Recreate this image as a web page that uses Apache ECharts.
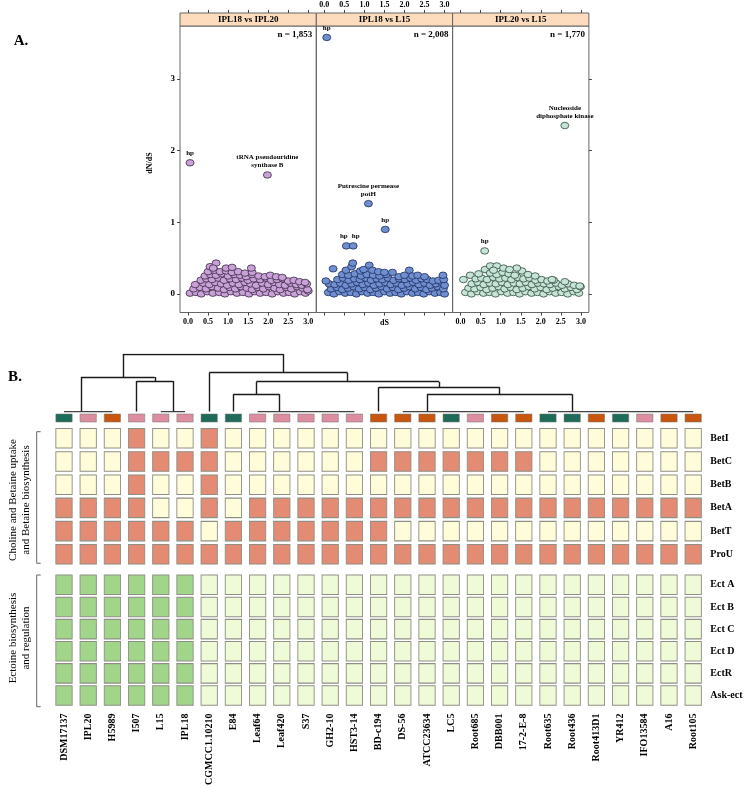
<!DOCTYPE html>
<html><head><meta charset="utf-8">
<script src="https://cdn.jsdelivr.net/npm/echarts@6/dist/echarts.min.js"></script>
<style>html,body{margin:0;padding:0;background:#fff}#c{width:748px;height:788px}</style>
</head><body><div id="c"></div>
<script>
const FONT = '"Liberation Serif","Times New Roman",serif';

// ---------------- Part A data ----------------
const panelTitles = ['IPL18 vs IPL20', 'IPL18 vs L15', 'IPL20 vs L15'];
const panelCounts = ['n = 1,853', 'n = 2,008', 'n = 1,770'];
const xTicks = [0, 0.5, 1, 1.5, 2, 2.5, 3];
const yTicks = [0, 1, 2, 3];

// [dS, dN/dS]
const pts_IPL18_IPL20 = [
 [0.05,0.01],[0.2,0.02],[0.33,0.0],[0.48,0.03],[0.62,0.01],[0.78,0.02],[0.92,0.0],[1.07,0.03],[1.22,0.01],[1.37,0.02],[1.52,0.0],[1.66,0.03],[1.8,0.01],[1.95,0.02],[2.1,0.0],[2.24,0.03],[2.38,0.01],[2.52,0.02],[2.66,0.0],[2.8,0.03],[2.93,0.01],[3.0,0.04],
 [0.14,0.07],[0.3,0.09],[0.45,0.07],[0.6,0.1],[0.75,0.08],[0.9,0.06],[1.04,0.09],[1.18,0.07],[1.32,0.1],[1.47,0.08],[1.6,0.06],[1.74,0.09],[1.88,0.07],[2.02,0.1],[2.16,0.08],[2.3,0.06],[2.45,0.09],[2.58,0.07],[2.72,0.1],[2.86,0.08],[2.98,0.06],
 [0.18,0.13],[0.38,0.15],[0.53,0.13],[0.68,0.16],[0.83,0.14],[0.98,0.12],[1.12,0.15],[1.27,0.13],[1.42,0.16],[1.56,0.14],[1.7,0.12],[1.85,0.15],[2.0,0.13],[2.14,0.16],[2.28,0.13],[2.42,0.12],[2.56,0.15],[2.7,0.13],[2.84,0.12],[2.96,0.14],
 [0.32,0.19],[0.46,0.21],[0.6,0.2],[0.76,0.22],[0.9,0.19],[1.05,0.21],[1.2,0.2],[1.35,0.22],[1.5,0.19],[1.64,0.21],[1.8,0.2],[1.94,0.22],[2.08,0.19],[2.22,0.2],[2.36,0.21],[2.5,0.18],[2.64,0.19],[2.78,0.17],[2.92,0.16],
 [0.42,0.25],[0.56,0.27],[0.7,0.26],[0.85,0.28],[1.0,0.25],[1.15,0.27],[1.3,0.26],[1.45,0.24],[1.6,0.27],[1.76,0.25],[1.92,0.24],[2.05,0.26],[2.2,0.24],[2.35,0.23],
 [0.5,0.31],[0.66,0.33],[0.8,0.31],[0.95,0.32],[1.1,0.3],[1.25,0.31],[1.42,0.29],[1.6,0.3],
 [0.55,0.38],[0.7,0.43],[0.63,0.36],[0.95,0.36],[1.1,0.37],[1.58,0.36]
];
const out_IPL18_IPL20 = [[0.05,1.83,'hp'],[1.98,1.66,'tRNA pseudouridine\nsynthase B']];

const pts_IPL18_L15 = [
 [0.1,0.02],[0.24,0.0],[0.38,0.03],[0.52,0.01],[0.66,0.02],[0.8,0.0],[0.94,0.03],[1.08,0.01],[1.22,0.02],[1.36,0.0],[1.5,0.03],[1.64,0.01],[1.78,0.02],[1.92,0.0],[2.06,0.03],[2.2,0.01],[2.34,0.02],[2.48,0.0],[2.62,0.03],[2.76,0.01],[2.9,0.02],[3.0,0.0],
 [0.17,0.07],[0.31,0.09],[0.45,0.06],[0.59,0.08],[0.73,0.1],[0.87,0.07],[1.01,0.09],[1.15,0.06],[1.29,0.08],[1.43,0.1],[1.57,0.07],[1.71,0.09],[1.85,0.06],[1.99,0.08],[2.13,0.1],[2.27,0.07],[2.41,0.09],[2.55,0.06],[2.69,0.08],[2.83,0.1],[2.97,0.07],
 [0.12,0.14],[0.26,0.13],[0.4,0.15],[0.54,0.12],[0.68,0.14],[0.82,0.16],[0.96,0.13],[1.1,0.15],[1.24,0.12],[1.38,0.14],[1.52,0.16],[1.66,0.13],[1.8,0.15],[1.94,0.12],[2.08,0.14],[2.22,0.16],[2.36,0.13],[2.5,0.15],[2.64,0.12],[2.78,0.14],[2.92,0.16],[3.0,0.12],
 [0.04,0.18],[0.33,0.2],[0.47,0.22],[0.61,0.19],[0.75,0.21],[0.89,0.2],[1.03,0.22],[1.17,0.19],[1.31,0.21],[1.45,0.2],[1.59,0.22],[1.73,0.19],[1.87,0.21],[2.01,0.2],[2.15,0.22],[2.29,0.19],[2.43,0.21],[2.57,0.2],[2.71,0.18],[2.85,0.19],[2.98,0.2],
 [0.45,0.27],[0.6,0.26],[0.76,0.28],[0.92,0.25],[1.06,0.27],[1.22,0.26],[1.38,0.25],[1.54,0.27],[1.7,0.3],[1.86,0.24],[2.0,0.26],[2.12,0.33],[2.2,0.25],[2.33,0.26],[2.5,0.24],[2.96,0.26],
 [0.22,0.35],[0.54,0.33],[0.68,0.38],[0.71,0.43],[0.9,0.32],[0.98,0.34],[1.12,0.4],[1.2,0.33],[1.35,0.31],[1.5,0.3]
];
const out_IPL18_L15 = [[0.06,3.58,'hp'],[1.1,1.26,'Putrescine permease\npotH'],[1.52,0.9,'hp'],[0.55,0.67,'hp'],[0.72,0.67,'hp']];

const pts_IPL20_L15 = [
 [0.12,0.02],[0.27,0.0],[0.42,0.03],[0.57,0.01],[0.72,0.02],[0.87,0.0],[1.02,0.03],[1.17,0.01],[1.32,0.02],[1.47,0.0],[1.62,0.03],[1.77,0.01],[1.92,0.02],[2.07,0.0],[2.22,0.03],[2.37,0.01],[2.52,0.02],[2.67,0.0],[2.82,0.03],[2.95,0.01],
 [0.2,0.08],[0.35,0.07],[0.5,0.09],[0.65,0.06],[0.8,0.08],[0.95,0.1],[1.1,0.07],[1.25,0.09],[1.4,0.06],[1.55,0.08],[1.7,0.1],[1.85,0.07],[2.0,0.09],[2.15,0.06],[2.3,0.08],[2.45,0.1],[2.6,0.07],[2.75,0.09],[2.9,0.06],[2.99,0.1],
 [0.07,0.2],[0.28,0.14],[0.43,0.16],[0.58,0.13],[0.73,0.15],[0.88,0.14],[1.03,0.16],[1.18,0.13],[1.33,0.15],[1.48,0.14],[1.63,0.16],[1.78,0.13],[1.93,0.15],[2.08,0.14],[2.23,0.13],[2.38,0.15],[2.53,0.12],[2.68,0.14],[2.83,0.12],[2.97,0.11],
 [0.24,0.26],[0.38,0.21],[0.52,0.22],[0.66,0.2],[0.82,0.23],[0.97,0.21],[1.12,0.22],[1.27,0.2],[1.42,0.23],[1.57,0.21],[1.72,0.22],[1.87,0.19],[2.02,0.2],[2.17,0.18],[2.32,0.19],[2.6,0.17],
 [0.45,0.28],[0.61,0.34],[0.74,0.29],[0.9,0.27],[1.05,0.3],[1.2,0.28],[1.35,0.26],[1.53,0.32],[1.68,0.27],[1.86,0.25],[2.28,0.2],
 [0.74,0.39],[0.9,0.39],[1.07,0.36],[1.4,0.36],[0.82,0.33],[1.22,0.34]
];
const out_IPL20_L15 = [[2.6,2.35,'Nucleoside\ndiphosphate kinase'],[0.6,0.6,'hp']];

// ---------------- Part B data ----------------
const strains = ['DSM17137','IPL20','H5989','I507','L15','IPL18','CGMCC1.10210','E84','Leaf64','Leaf420','S37','GH2-10','HST3-14','BD-c194','DS-56','ATCC23634','LC5','Root685','DBB001','17-2-E-8','Root635','Root436','Root413D1','YR412','IFO13584','A16','Root105'];
const strainGroup = ['T','P','O','P','P','P','T','T','P','P','P','P','P','O','O','O','T','P','O','O','T','T','O','T','P','O','O'];
const betRows = ['BetI','BetC','BetB','BetA','BetT','ProU'];
const betI = [0,0,0,1,0,0,1,0,0,0,0,0,0,0,0,0,0,0,0,0,0,0,0,0,0,0,0];
const betC = [0,0,0,1,1,1,1,0,0,0,0,0,0,1,1,1,1,1,1,1,0,0,0,0,0,0,0];
const betB = [0,0,0,1,0,0,1,0,0,0,0,0,0,0,0,0,0,0,0,0,0,0,0,0,0,0,0];
const betA = [1,1,1,1,0,0,1,0,1,1,1,1,1,1,1,1,1,1,1,1,1,1,1,1,1,1,1];
const betT = [1,1,1,1,1,1,0,1,1,1,1,1,1,1,0,0,0,0,0,0,0,0,0,0,0,0,0];
const proU = [1,1,1,1,1,1,1,1,1,1,1,1,1,1,1,1,1,1,1,1,1,1,1,1,1,1,1];
const ectRows = ['Ect A','Ect B','Ect C','Ect D','EctR','Ask-ect'];
const ectA = [1,1,1,1,1,1,0,0,0,0,0,0,0,0,0,0,0,0,0,0,0,0,0,0,0,0,0];
const ectB = [1,1,1,1,1,1,0,0,0,0,0,0,0,0,0,0,0,0,0,0,0,0,0,0,0,0,0];
const ectC = [1,1,1,1,1,1,0,0,0,0,0,0,0,0,0,0,0,0,0,0,0,0,0,0,0,0,0];
const ectD = [1,1,1,1,1,1,0,0,0,0,0,0,0,0,0,0,0,0,0,0,0,0,0,0,0,0,0];
const ectR = [1,1,1,1,1,1,0,0,0,0,0,0,0,0,0,0,0,0,0,0,0,0,0,0,0,0,0];
const askEct = [1,1,1,1,1,1,0,0,0,0,0,0,0,0,0,0,0,0,0,0,0,0,0,0,0,0,0];

// dendrogram: leaf clusters (id, first col, last col, anchor col) and merges (id, left, right, height, position)
const dendroLeaves = [
 ['g1',0,2,0.7],['c3',3,3,3],['g2',4,5,4.5],['c6',6,6,6],['c7',7,7,7],
 ['g3',8,12,8.9],['c13',13,13,13],['g4',14,19,15],['g5',20,26,21]
];
const dendroMerges = [
 ['a2','c3','g2',0.533,3.75],
 ['A','g1','a2',0.603,2.43],
 ['b2a','c7','g3',0.301,7.95],
 ['b2b2','g4','g5',0.301,18],
 ['b2b','c13','b2b2',0.423,15.5],
 ['b2','b2a','b2b',0.521,11.72],
 ['B','c6','b2',0.678,9.08],
 ['root','A','B',1.0,5.7]
];

// ---------------- build ----------------
const groupColors = {T:'#1e6b5a', P:'#dc8ea0', O:'#c9560f'};
const betOn = '#e48b74', betOff = '#fffdd9', ectOn = '#a0d58a', ectOff = '#effad6';

const grids = [], xAxes = [], yAxes = [], series = [], graphics = [];
const PL = 180, PW = 136.3, PT = 26, PH = 286.5, SH = 13;
const panelPts = [pts_IPL18_IPL20, pts_IPL18_L15, pts_IPL20_L15];
const panelOut = [out_IPL18_IPL20, out_IPL18_L15, out_IPL20_L15];
const fills = ['#c9a1d8', '#6f8fd1', '#c6e4d6'];
const strokes = ['#3b2a45', '#1e2d5c', '#2f4a40'];
const tickFont = {fontFamily: FONT, fontWeight: 'bold', fontSize: 8, color: '#000'};
const SYM = [8, 6.5];

for (let i = 0; i < 3; i++) {
  const left = PL + i * PW;
  grids.push({left: left, top: PT, width: PW, height: PH, show: true, borderColor: '#666', borderWidth: 1});
  const xbase = {gridIndex: i, type: 'value', min: -0.2, max: 3.2, splitLine: {show: false}, axisLine: {show: false, onZero: false}};
  xAxes.push(Object.assign({}, xbase, {position: 'bottom',
    axisTick: {show: true, customValues: xTicks, length: 3, lineStyle: {color: '#444'}},
    axisLabel: Object.assign({show: i !== 1, customValues: xTicks, margin: 5, formatter: v => v.toFixed(1)}, tickFont)}));
  xAxes.push(Object.assign({}, xbase, {position: 'top', offset: SH,
    axisTick: {show: true, customValues: xTicks, length: 3, lineStyle: {color: '#444'}},
    axisLabel: Object.assign({show: i === 1, customValues: xTicks, margin: 4, formatter: v => v.toFixed(1)}, tickFont)}));
  yAxes.push({gridIndex: i, type: 'value', min: -0.26, max: 3.74, position: i === 2 ? 'right' : 'left',
    splitLine: {show: false}, axisLine: {show: false, onZero: false},
    axisTick: {show: i !== 1, customValues: yTicks, length: 3, lineStyle: {color: '#444'}},
    axisLabel: Object.assign({show: i === 0, customValues: yTicks, margin: 5}, tickFont, {fontSize: 9})});
  series.push({type: 'scatter', xAxisIndex: 2 * i, yAxisIndex: i, data: panelPts[i], symbolSize: SYM,
    itemStyle: {color: fills[i], borderColor: strokes[i], borderWidth: 0.8, opacity: 1}, silent: true});
  series.push({type: 'scatter', xAxisIndex: 2 * i, yAxisIndex: i,
    data: panelOut[i].map((d, k) => {
      const item = {value: [d[0], d[1]], name: d[2]};
      // keep the two neighbouring "hp" labels apart
      if (i === 1 && k === 3) item.label = {offset: [-2.5, 0]};
      if (i === 1 && k === 4) item.label = {offset: [2.5, 0]};
      return item;
    }), symbolSize: SYM,
    itemStyle: {color: fills[i], borderColor: strokes[i], borderWidth: 0.8, opacity: 1}, silent: true,
    label: {show: true, position: 'top', distance: 2, formatter: '{b}', fontFamily: FONT, fontWeight: 'bold',
      fontSize: 7, lineHeight: 8, color: '#000'}});
  graphics.push({type: 'rect', shape: {x: left, y: PT - SH, width: PW, height: SH},
    style: {fill: '#fddcbd', stroke: '#666', lineWidth: 1}});
  graphics.push({type: 'text', x: left + PW / 2, y: PT - SH / 2 + 0.5,
    style: {text: panelTitles[i], align: 'center', verticalAlign: 'middle', font: 'bold 9px ' + FONT, fill: '#000'}});
  graphics.push({type: 'text', x: left + PW - 4, y: PT + 4,
    style: {text: panelCounts[i], align: 'right', verticalAlign: 'top', font: 'bold 9px ' + FONT, fill: '#000'}});
}
graphics.push({type: 'text', x: 150, y: 163, rotation: Math.PI / 2,
  style: {text: 'dN/dS', align: 'center', verticalAlign: 'middle', font: 'bold 8px ' + FONT, fill: '#000'}});
graphics.push({type: 'text', x: PL + 1.5 * PW, y: 323,
  style: {text: 'dS', align: 'center', verticalAlign: 'middle', font: 'bold 8px ' + FONT, fill: '#000'}});
graphics.push({type: 'text', x: 21, y: 41,
  style: {text: 'A.', align: 'center', verticalAlign: 'middle', font: 'bold 15px ' + FONT, fill: '#000'}});
graphics.push({type: 'text', x: 15, y: 377,
  style: {text: 'B.', align: 'center', verticalAlign: 'middle', font: 'bold 15px ' + FONT, fill: '#000'}});

// ---- Part B grids ----
const HL = 51.9, HW = 653.4;
const nC = strains.length;
// grid 3: dendrogram
grids.push({left: HL, width: HW, top: 354.3, height: 57.2});
xAxes.push({gridIndex: 3, type: 'value', min: -0.5, max: nC - 0.5, show: false});
yAxes.push({gridIndex: 3, type: 'value', min: 0, max: 1, show: false});
// grid 4: colour bar
grids.push({left: HL, width: HW, top: 414, height: 8});
xAxes.push({gridIndex: 4, type: 'category', data: strains, show: false});
yAxes.push({gridIndex: 4, type: 'category', data: [''], show: false});
// grid 5, 6: presence blocks
const rowLabelStyle = {fontFamily: FONT, fontWeight: 'bold', fontSize: 10, color: '#000', margin: 5};
grids.push({left: HL, width: HW, top: 426.7, height: 139.2});
xAxes.push({gridIndex: 5, type: 'category', data: strains, show: false});
yAxes.push({gridIndex: 5, type: 'category', data: betRows, inverse: true, position: 'right',
  axisLine: {show: false}, axisTick: {show: false}, axisLabel: rowLabelStyle});
grids.push({left: HL, width: HW, top: 573.7, height: 139.2});
xAxes.push({gridIndex: 6, type: 'category', data: strains, position: 'bottom',
  axisLine: {show: false}, axisTick: {show: false},
  axisLabel: {rotate: 90, interval: 0, margin: 7, fontFamily: FONT, fontWeight: 'bold', fontSize: 10, color: '#000'}});
yAxes.push({gridIndex: 6, type: 'category', data: ectRows, inverse: true, position: 'right',
  axisLine: {show: false}, axisTick: {show: false}, axisLabel: rowLabelStyle});

// dendrogram segments
const nodePos = {};
dendroLeaves.forEach(l => { nodePos[l[0]] = {x: l[3], h: 0}; });
const segs = [];
dendroLeaves.forEach(l => { if (l[2] > l[1]) segs.push({coords: [[l[1], 0], [l[2], 0]], lineStyle: {width: 2.2, color: '#444'}}); });
dendroMerges.forEach(m => {
  const a = nodePos[m[1]], b = nodePos[m[2]], h = m[3];
  segs.push({coords: [[a.x, h], [b.x, h]]});
  segs.push({coords: [[a.x, h], [a.x, a.h]]});
  segs.push({coords: [[b.x, h], [b.x, b.h]]});
  nodePos[m[0]] = {x: m[4], h: h};
});
series.push({type: 'lines', coordinateSystem: 'cartesian2d', xAxisIndex: 6, yAxisIndex: 3, data: segs,
  lineStyle: {color: '#1a1a1a', width: 1.4, opacity: 1}, silent: true, z: 3});

// colour bar
series.push({type: 'scatter', xAxisIndex: 7, yAxisIndex: 4, symbol: 'rect', symbolSize: [16.3, 8], silent: true,
  data: strainGroup.map((g, c) => ({value: [c, 0], itemStyle: {color: groupColors[g]}})),
  itemStyle: {borderColor: '#777', borderWidth: 0.5, opacity: 1}});

function cells(rows, on, off) {
  const d = [];
  rows.forEach((arr, r) => arr.forEach((v, c) => d.push({value: [c, r], itemStyle: {color: v ? on : off}})));
  return d;
}
series.push({type: 'scatter', xAxisIndex: 8, yAxisIndex: 5, symbol: 'rect', symbolSize: [16.3, 19.5], silent: true,
  data: cells([betI, betC, betB, betA, betT, proU], betOn, betOff),
  itemStyle: {borderColor: '#8f8f86', borderWidth: 1, opacity: 1}});
series.push({type: 'scatter', xAxisIndex: 9, yAxisIndex: 6, symbol: 'rect', symbolSize: [16.3, 19.5], silent: true,
  data: cells([ectA, ectB, ectC, ectD, ectR, askEct], ectOn, ectOff),
  itemStyle: {borderColor: '#8f8f86', borderWidth: 1, opacity: 1}});

// group brackets and labels
graphics.push({type: 'polyline', shape: {points: [[40.7, 431.7], [36.7, 431.7], [36.7, 563.3], [40.7, 563.3]]},
  style: {stroke: '#666', lineWidth: 1, fill: null}});
graphics.push({type: 'polyline', shape: {points: [[40.7, 575], [36.7, 575], [36.7, 706.7], [40.7, 706.7]]},
  style: {stroke: '#666', lineWidth: 1, fill: null}});
graphics.push({type: 'text', x: 19.5, y: 500, rotation: Math.PI / 2,
  style: {text: 'Choline and Betaine uptake\nand Betaine biosynthesis', align: 'center', verticalAlign: 'middle',
    font: '11px ' + FONT, lineHeight: 13.3, fill: '#000'}});
graphics.push({type: 'text', x: 19.5, y: 638, rotation: Math.PI / 2,
  style: {text: 'Ectoine biosynthesis\nand regulation', align: 'center', verticalAlign: 'middle',
    font: '11px ' + FONT, lineHeight: 13.3, fill: '#000'}});

const chart = echarts.init(document.getElementById('c'));
chart.setOption({animation: false, grid: grids, xAxis: xAxes, yAxis: yAxes, series: series, graphic: graphics});
</script></body></html>
